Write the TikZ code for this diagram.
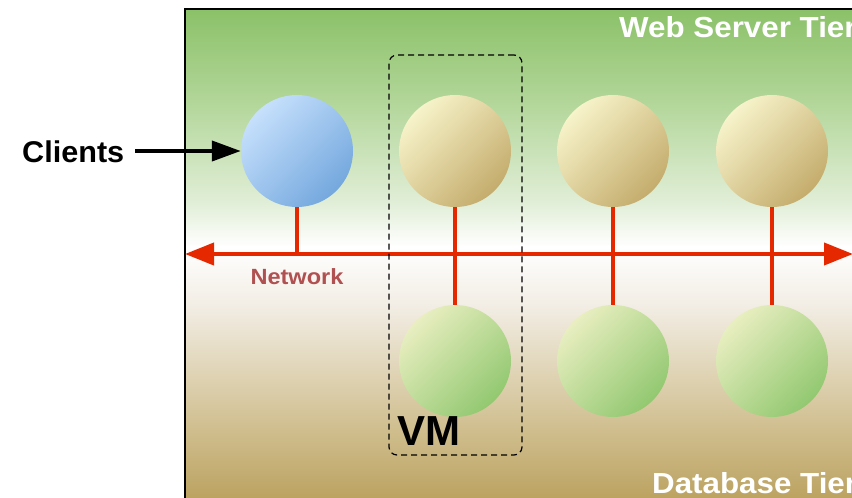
\documentclass[tikz,border=0pt]{standalone}
\usepackage{fontspec}
\setmainfont{Liberation Sans}
\usetikzlibrary{arrows.meta}
\definecolor{bgA}{RGB}{186,160,92}
\definecolor{bgB}{RGB}{214,199,158}
\definecolor{bgC}{RGB}{242,237,228}
\definecolor{bgD}{RGB}{225,238,215}
\definecolor{bgE}{RGB}{178,214,153}
\definecolor{bgF}{RGB}{139,193,104}
\definecolor{netred}{RGB}{230,40,0}
\definecolor{netlabel}{RGB}{176,80,80}
\definecolor{webL}{RGB}{247,243,202}
\definecolor{webD}{RGB}{196,172,108}
\definecolor{dbL}{RGB}{232,238,192}
\definecolor{dbD}{RGB}{146,200,112}
\definecolor{cliL}{RGB}{198,224,252}
\definecolor{cliD}{RGB}{116,168,222}
\pgfdeclareverticalshading{tierbg}{100bp}{color(0bp)=(bgA); color(25bp)=(bgA); color(35bp)=(bgB); color(45bp)=(bgC); color(51bp)=(white); color(55.5bp)=(bgD); color(65.7bp)=(bgE); color(75bp)=(bgF); color(100bp)=(bgF)}
\tikzset{
  ball/.style={circle, minimum size=112pt, inner sep=0pt},
  webball/.style={ball, top color=webL, bottom color=webD, shading angle=45},
  dbball/.style={ball, top color=dbL, bottom color=dbD, shading angle=45},
  cliball/.style={ball, top color=cliL, bottom color=cliD, shading angle=45},
  link/.style={draw=netred, line width=4pt},
  tiertext/.style={text=white, font=\bfseries\fontsize{29}{32}\selectfont, inner sep=0pt, xscale=1.08, transform shape},
}
\begin{document}
\begin{tikzpicture}[x=1pt,y=-1pt]
\useasboundingbox (0,0) rectangle (852,498);
\clip (0,0) rectangle (852,498);
% tier background
\path[shading=tierbg, draw=black, line width=1.2pt] (185,9) rectangle (880,505);
\node[tiertext, anchor=base west] (webtier) at (619,37) {Web Server Tier};
\node[tiertext, anchor=base west] (dbtier) at (652,493) {Database Tier};
% nodes
\node[cliball] (cli) at (297,151) {};
\node[webball] (w1) at (455,151) {};
\node[webball] (w2) at (613,151) {};
\node[webball] (w3) at (772,151) {};
\node[dbball] (d1) at (455,361) {};
\node[dbball] (d2) at (613,361) {};
\node[dbball] (d3) at (772,361) {};
% network
\coordinate (netL) at (185,254);
\coordinate (netR) at (853,254);
\coordinate (jc) at (297,254);
\draw[link] (cli.south) -- (jc);
\draw[link] (w1.south) -- (d1.north);
\draw[link] (w2.south) -- (d2.north);
\draw[link] (w3.south) -- (d3.north);
\draw[link, {Triangle[length=29pt,width=22pt]}-{Triangle[length=29pt,width=22pt]}] (netL) -- (netR);
\node[text=netlabel, font=\bfseries\fontsize{22}{24}\selectfont, anchor=base, inner sep=0pt, xscale=1.07, transform shape] (netlab) at (297,284) {Network};
% VM box
\node[draw=black, dashed, dash pattern=on 6pt off 4pt, line width=1.2pt, rounded corners=8pt, minimum width=133pt, minimum height=400pt, inner sep=0pt] (vm) at (455.5,255) {};
\node[font=\bfseries\fontsize{42}{44}\selectfont, anchor=base west, inner sep=0pt] (vmlab) at (397,445) {VM};
% clients
\node[font=\bfseries\fontsize{30}{32}\selectfont, anchor=base west, inner sep=0pt, xscale=1.02, transform shape] (clients) at (22,162) {Clients};
\coordinate (cstart) at (135,151);
\draw[line width=4pt, -{Triangle[length=29pt,width=20pt]}] (cstart) -- (cli.west);
\end{tikzpicture}
\end{document}
